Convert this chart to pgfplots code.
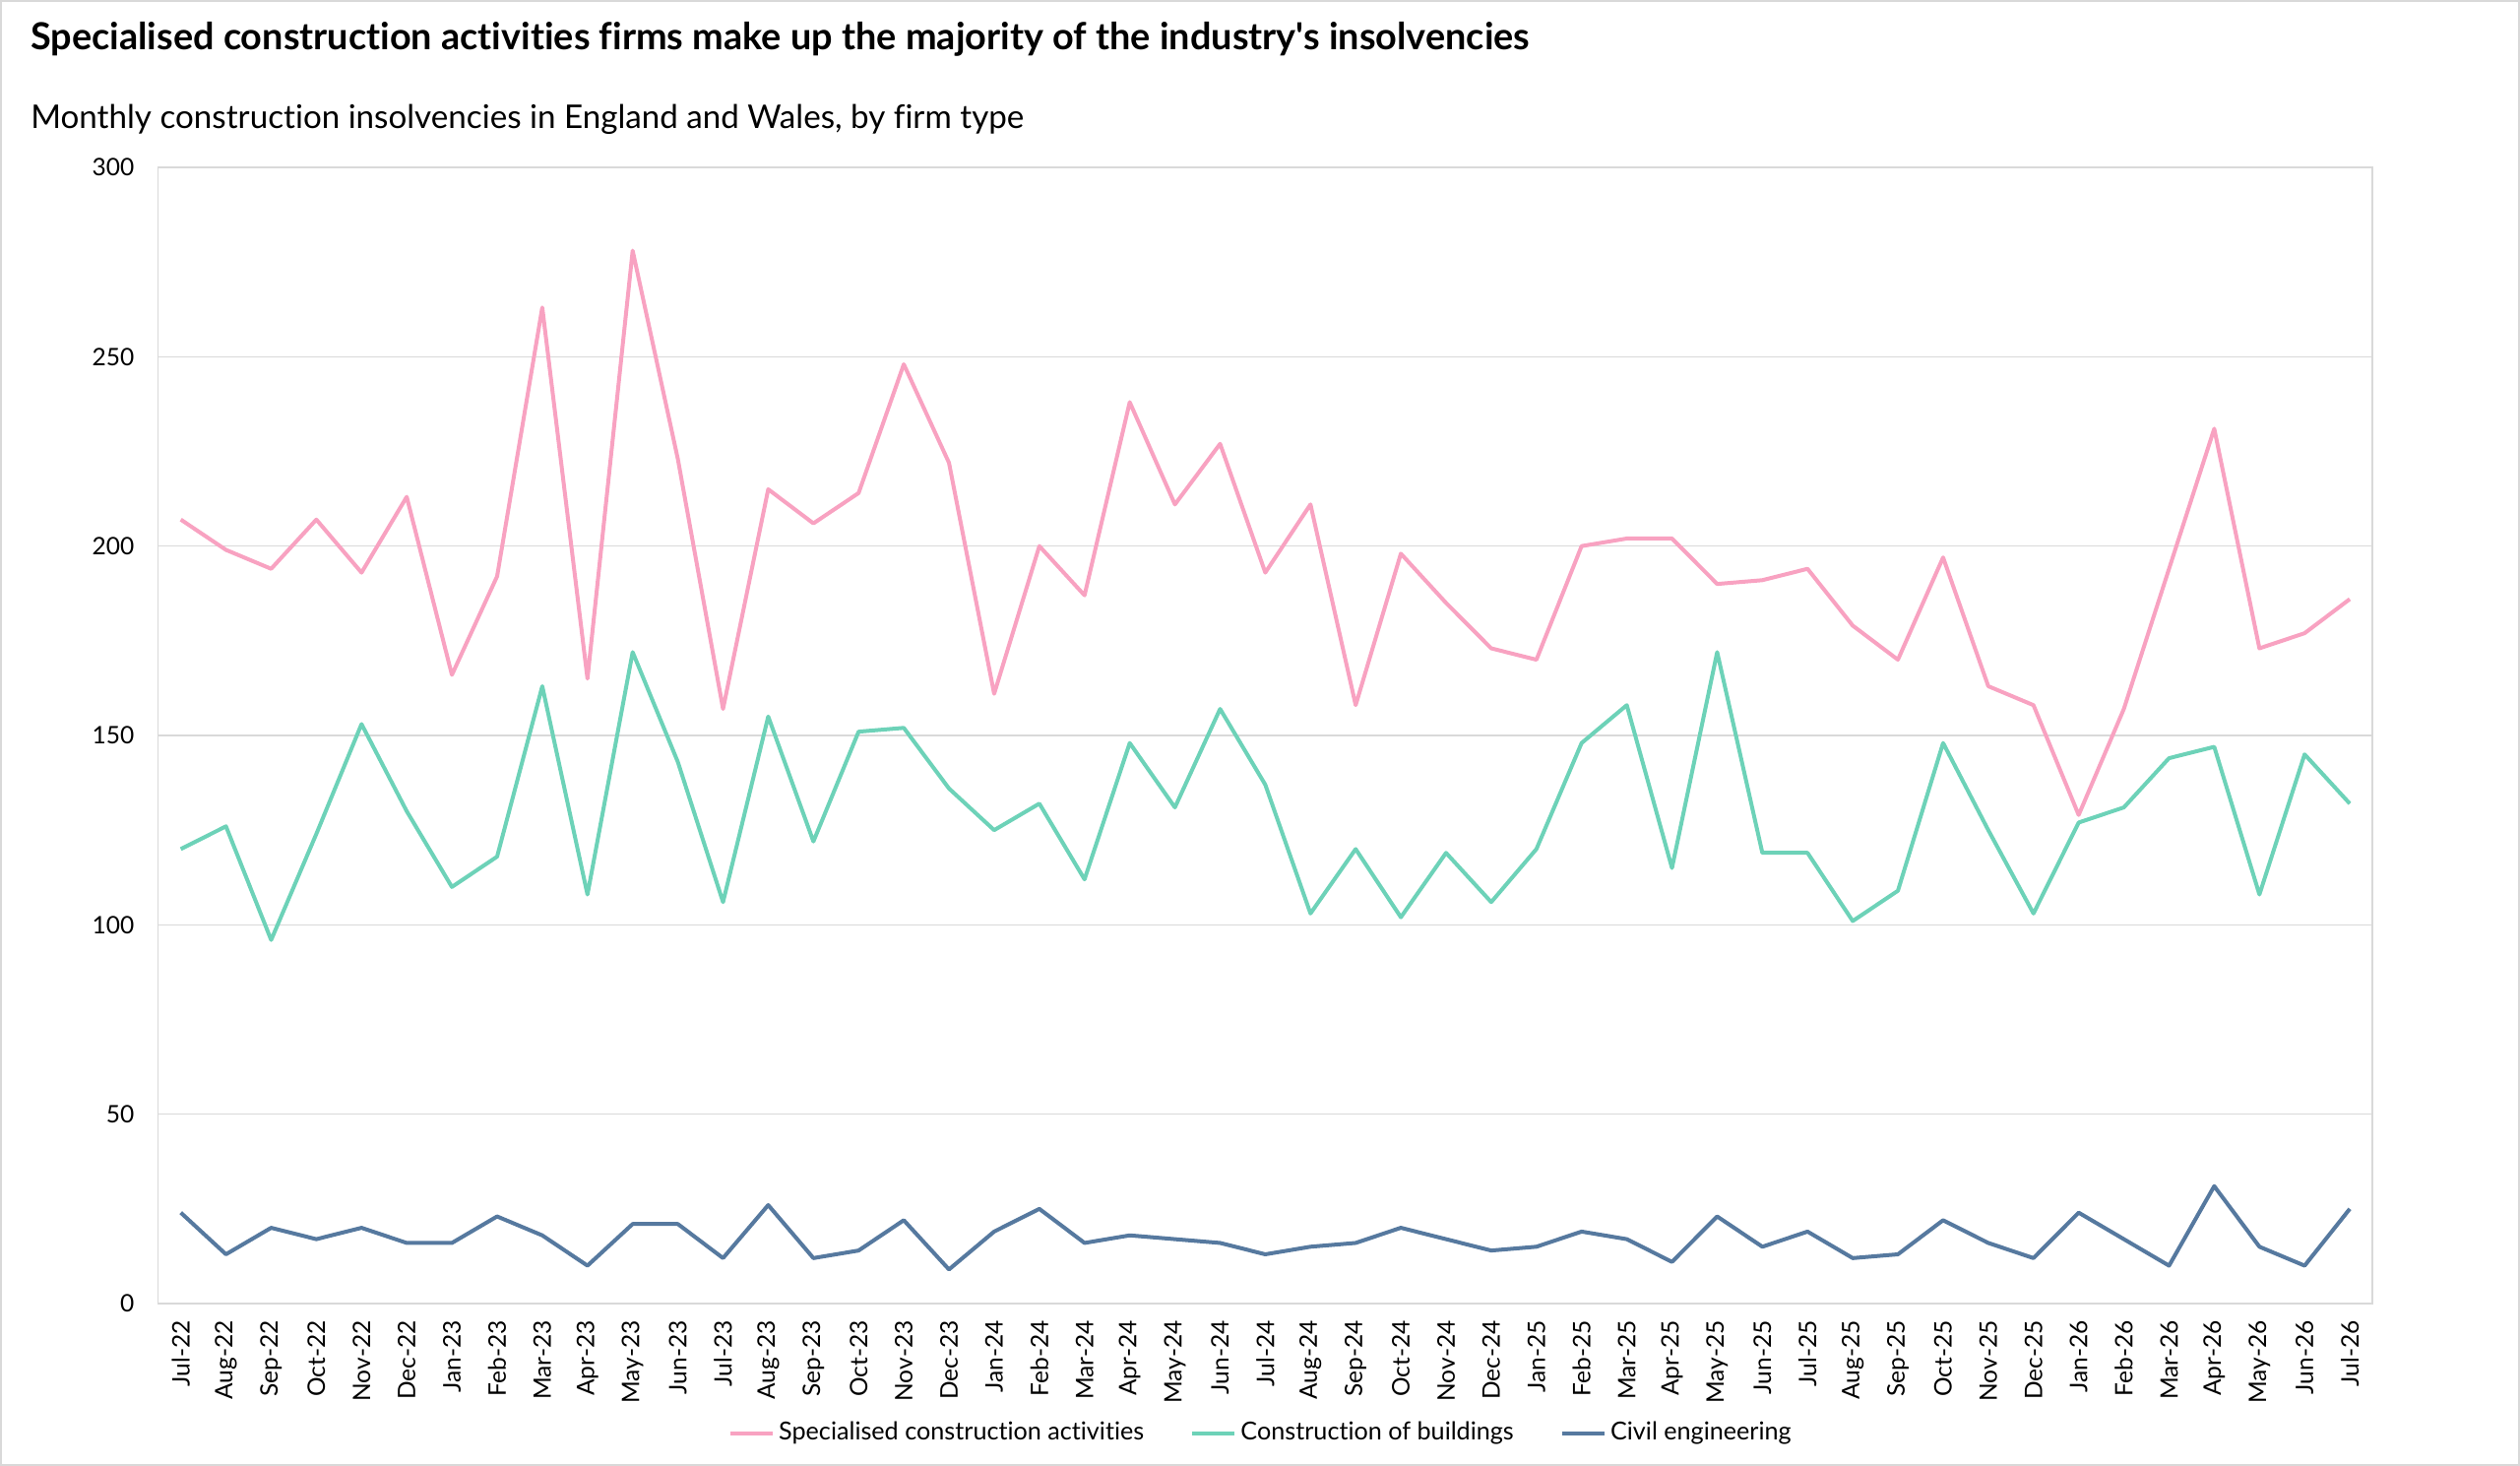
\documentclass[border=0pt]{standalone}
\usepackage{pgfplots}
\pgfplotsset{compat=1.18}
\usepackage{fontspec}
\setmainfont{Lato}[Ligatures={TeXOff,NoCommon}]
\definecolor{cpink}{HTML}{F8A2C1}
\definecolor{cgreen}{HTML}{6DD2B8}
\definecolor{cblue}{HTML}{56799F}
\definecolor{cgrid}{HTML}{D9D9D9}
\pgfplotstableread{
x pink green blue
0 207 120 24
1 199 126 13
2 194 96 20
3 207 124 17
4 193 153 20
5 213 130 16
6 166 110 16
7 192 118 23
8 263 163 18
9 165 108 10
10 278 172 21
11 223 143 21
12 157 106 12
13 215 155 26
14 206 122 12
15 214 151 14
16 248 152 22
17 222 136 9
18 161 125 19
19 200 132 25
20 187 112 16
21 238 148 18
22 211 131 17
23 227 157 16
24 193 137 13
25 211 103 15
26 158 120 16
27 198 102 20
28 185 119 17
29 173 106 14
30 170 120 15
31 200 148 19
32 202 158 17
33 202 115 11
34 190 172 23
35 191 119 15
36 194 119 19
37 179 101 12
38 170 109 13
39 197 148 22
40 163 125 16
41 158 103 12
42 129 127 24
43 157 131 17
44 194 144 10
45 231 147 31
46 173 108 15
47 177 145 10
48 186 132 25
}\datatable
\begin{document}
\begin{tikzpicture}
\path[use as bounding box] (0pt,0pt) rectangle (768pt,446.7pt);
\draw[cgrid, line width=0.6pt] (0.3pt,0.3pt) rectangle (767.7pt,446.4pt);
\node[anchor=base west, inner sep=0pt, font=\bfseries\fontsize{11.35}{13}\selectfont] at (9.2pt,431.6pt) {Specialised construction activities firms make up the majority of the industry's insolvencies};
\node[anchor=base west, inner sep=0pt, font=\fontsize{9.95}{12}\selectfont] at (9.2pt,407.6pt) {Monthly construction insolvencies in England and Wales, by firm type};
\begin{axis}[
  at={(48.21pt,49.5pt)}, anchor=south west,
  scale only axis, width=674.8pt, height=346.2pt,
  xmin=-0.5, xmax=48.5, ymin=0, ymax=300,
  ytick={0,50,...,300},
  xtick={0,...,48},
  xticklabels={Jul-22,Aug-22,Sep-22,Oct-22,Nov-22,Dec-22,Jan-23,Feb-23,Mar-23,Apr-23,May-23,Jun-23,Jul-23,Aug-23,Sep-23,Oct-23,Nov-23,Dec-23,Jan-24,Feb-24,Mar-24,Apr-24,May-24,Jun-24,Jul-24,Aug-24,Sep-24,Oct-24,Nov-24,Dec-24,Jan-25,Feb-25,Mar-25,Apr-25,May-25,Jun-25,Jul-25,Aug-25,Sep-25,Oct-25,Nov-25,Dec-25,Jan-26,Feb-26,Mar-26,Apr-26,May-26,Jun-26,Jul-26},
  ymajorgrids,
  grid style={cgrid, line width=0.45pt},
  axis line style={cgrid, line width=0.45pt},
  major tick length=0pt,
  tick style={draw=none},
  tick label style={font=\fontsize{7.35}{9}\selectfont},
  xticklabel style={rotate=90, anchor=east, inner sep=0pt},
  yticklabel style={anchor=east, inner sep=0pt},
  xticklabel shift=5pt,
  yticklabel shift=7.1pt,
  /pgf/number format/assume math mode=true,
  legend columns=3,
  legend style={draw=none, fill=none, at={(0.4985,-0.1145)}, anchor=center,
    font=\fontsize{7.55}{9}\selectfont,
    nodes={inner xsep=1.2pt, inner ysep=1pt},
    /tikz/every even column/.append style={column sep=13pt}},
  legend cell align=left,
  legend image code/.code={\draw[#1] (0pt,0pt) -- (12.9pt,0pt);},
  every axis plot/.append style={line width=1.2pt, line join=round},
]
\addplot[cpink] table[x=x, y=pink] {\datatable};
\addlegendentry{Specialised construction activities}
\addplot[cgreen] table[x=x, y=green] {\datatable};
\addlegendentry{Construction of buildings}
\addplot[cblue] table[x=x, y=blue] {\datatable};
\addlegendentry{Civil engineering}
\end{axis}
\end{tikzpicture}
\end{document}
